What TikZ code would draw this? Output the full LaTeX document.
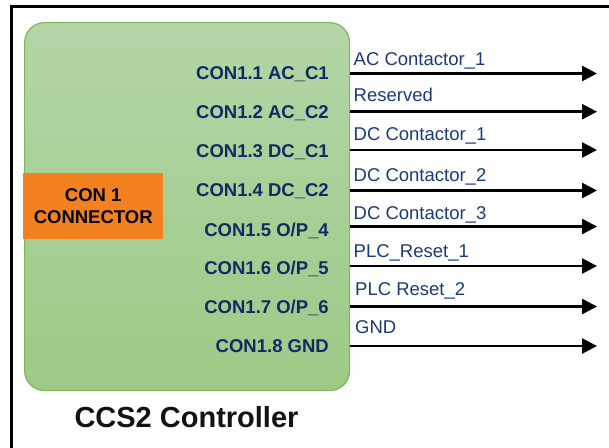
\documentclass[tikz,border=0pt]{standalone}
\usepackage{fontspec}
\setmainfont{Liberation Sans}
\usetikzlibrary{arrows.meta}
\definecolor{navy}{HTML}{0E2B63}
\definecolor{lblue}{HTML}{1B3A7A}
\definecolor{gtop}{HTML}{B4D5A6}
\definecolor{gbot}{HTML}{9CCA86}
\definecolor{gedge}{HTML}{7DB65E}
\definecolor{orng}{HTML}{F4811F}
\begin{document}
\begin{tikzpicture}[x=1pt,y=-1pt,
  pinlabel/.style={anchor=base east, font=\fontsize{18.5}{22}\selectfont\bfseries, text=navy, inner sep=0pt},
  siglabel/.style={anchor=base west, font=\fontsize{18.5}{22}\selectfont, text=lblue, inner sep=0pt},
  sigarrow/.style={line width=2.6pt, -{Triangle[length=15pt,width=15pt]}}]
\useasboundingbox (0,0) rectangle (609,447);
\begin{scope}
  \clip (0,0) rectangle (609,447);
  \draw[line width=3pt] (11.5,470) -- (11.5,6.5) -- (630,6.5);
\end{scope}
\node[draw=gedge, line width=1.2pt, rounded corners=20pt, top color=gtop, bottom color=gbot,
      minimum width=325pt, minimum height=368pt, anchor=north west, inner sep=0pt] (box) at (24,22) {};
\node[fill=orng, minimum width=140pt, minimum height=66pt, anchor=north west, align=center,
      font=\fontsize{18.5}{22}\selectfont\bfseries, text=black, inner sep=0pt] (con) at (23,173) {CON 1\\CONNECTOR};
\node[anchor=base, font=\fontsize{29}{34}\selectfont\bfseries, text=black!93] (title) at (186.5,427) {CCS2 Controller};

\node[pinlabel] (p1) at (329,79.3) {CON1.1 AC\_C1};
\node[pinlabel] (p2) at (329,118.3) {CON1.2 AC\_C2};
\node[pinlabel] (p3) at (329,157.3) {CON1.3 DC\_C1};
\node[pinlabel] (p4) at (329,196.7) {CON1.4 DC\_C2};
\node[pinlabel] (p5) at (329,236) {CON1.5 O/P\_4};
\node[pinlabel] (p6) at (329,274.3) {CON1.6 O/P\_5};
\node[pinlabel] (p7) at (329,313.3) {CON1.7 O/P\_6};
\node[pinlabel] (p8) at (329,352.7) {CON1.8 GND};

\node[siglabel] (s1) at (353.5,65) {AC Contactor\_1};
\node[siglabel] (s2) at (353.5,101.7) {Reserved};
\node[siglabel] (s3) at (353.5,140) {DC Contactor\_1};
\node[siglabel] (s4) at (353.5,181.7) {DC Contactor\_2};
\node[siglabel] (s5) at (353.5,219) {DC Contactor\_3};
\node[siglabel] (s6) at (353.5,257.3) {PLC\_Reset\_1};
\node[siglabel] (s7) at (355,295) {PLC Reset\_2};
\node[siglabel] (s8) at (355,333.3) {GND};

\foreach \i/\y in {1/73.5, 2/111.7, 3/150, 4/190.5, 5/226.5, 6/266, 7/306.5, 8/346} {
  \coordinate (a\i) at (350,\y);
  \coordinate (b\i) at (597,\y);
  \draw[sigarrow] (a\i) -- (b\i);
}
\end{tikzpicture}
\end{document}
